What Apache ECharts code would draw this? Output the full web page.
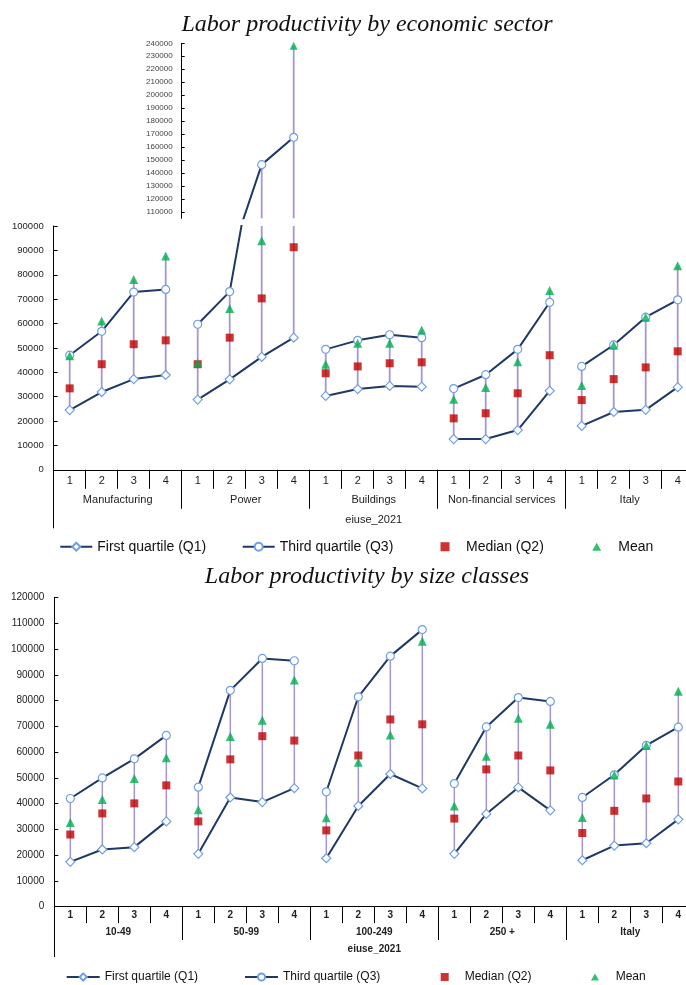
<!DOCTYPE html>
<html><head><meta charset="utf-8">
<script src="https://cdn.jsdelivr.net/npm/echarts@6/dist/echarts.min.js"></script>
<style>html,body{margin:0;padding:0;background:#fff;overflow:hidden}#c{width:700px;height:985px}</style>
</head><body><div id="c"></div>
<script>
// ---------- data ----------
const quarterLabels = ['1', '2', '3', '4'];
const sectors = ['Manufacturing', 'Power', 'Buildings', 'Non-financial services', 'Italy'];
const sizeClasses = ['10-49', '50-99', '100-249', '250 +', 'Italy'];
const insetTickLabels = [110000, 120000, 130000, 140000, 150000, 160000, 170000, 180000, 190000, 200000, 210000, 220000, 230000, 240000];

const sectorQ1 = [24500, 31900, 37200, 38900, 28800, 37100, 46300, 54200, 30300, 33100, 34400, 34100, 12600, 12600, 16300, 32400, 18000, 23700, 24600, 33900];
const sectorQ3 = [47000, 56800, 72900, 74000, 59700, 73100, 146400, 167500, 49400, 53100, 55400, 54200, 33300, 39000, 49400, 68700, 42400, 51200, 62600, 69700];
const sectorMedian = [33400, 43300, 51500, 53100, 43300, 54200, 70300, 91300, 39600, 42400, 43700, 44100, 21100, 23200, 31400, 47000, 28600, 37200, 42000, 48600];
const sectorMean = [46800, 61000, 78100, 87700, 43700, 66200, 94000, 238100, 43300, 51900, 51900, 57300, 28900, 33800, 44300, 73500, 34600, 51100, 62600, 83700];

const sizeQ1 = [17400, 22200, 23100, 33100, 20500, 42400, 40600, 46000, 18800, 39100, 51500, 45900, 20500, 36000, 46300, 37400, 18000, 23700, 24600, 33900];
const sizeQ3 = [42000, 50000, 57400, 66500, 46400, 84000, 96400, 95500, 44600, 81500, 97300, 107600, 47800, 69800, 81200, 79700, 42400, 51200, 62600, 69700];
const sizeMedian = [28000, 36200, 40100, 47100, 33100, 57200, 66200, 64500, 29600, 58700, 72700, 70800, 34200, 53300, 58700, 52900, 28600, 37200, 42000, 48600];
const sizeMean = [32700, 41600, 49800, 57800, 37600, 66100, 72400, 88000, 34500, 56100, 66700, 103100, 39100, 58400, 73200, 70800, 34600, 51100, 62600, 83700];

const axisName = 'eiuse_2021';
const N_Q1 = 'First quartile (Q1)', N_Q3 = 'Third quartile (Q3)', N_MED = 'Median (Q2)', N_MEAN = 'Mean';

// ---------- style ----------
const FONT = '"Liberation Sans", Arial, sans-serif';
const NAVY = '#1f3864', MARK = '#6f9fe6', RED = '#c00000', GREEN = '#00b050', HL = '#a596d4';
const plain = v => String(v);

function qLabels(groups) { return groups.flatMap(() => quarterLabels); }

function lineSeries(name, arr, symbol, size, xi, yi, nGroups) {
  const out = [];
  for (let g = 0; g < nGroups; g++) {
    out.push({
      type: 'line', name, xAxisIndex: xi, yAxisIndex: yi,
      data: arr.map((v, i) => Math.floor(i / 4) === g ? v : '-'),
      symbol, symbolSize: size, showSymbol: true, clip: true,
      lineStyle: { color: NAVY, width: 2 },
      itemStyle: { color: '#fff', borderColor: MARK, borderWidth: 1.2 },
      emphasis: { disabled: true }, z: 3
    });
  }
  return out;
}

function scatterSeries(name, arr, symbol, size, color, xi, yi) {
  return {
    type: 'scatter', name, xAxisIndex: xi, yAxisIndex: yi,
    data: arr.map((v, i) => [i, v]), symbol, symbolSize: size, clip: true,
    itemStyle: { color }, emphasis: { disabled: true }, z: 4
  };
}

function hlSeries(arrs, xi, yi, width) {
  const data = arrs[0].map((_, i) => {
    const vals = arrs.map(a => a[i]);
    return [i, Math.min(...vals), Math.max(...vals)];
  });
  return {
    type: 'custom', xAxisIndex: xi, yAxisIndex: yi, data, silent: true, z: 1,
    encode: { x: 0, y: [1, 2] },
    renderItem: function (params, api) {
      const x = api.value(0), lo = api.value(1), hi = api.value(2);
      const p1 = api.coord([x, lo]), p2 = api.coord([x, hi]);
      const cs = params.coordSys;
      const top = cs.y, bot = cs.y + cs.height;
      const y1 = Math.min(Math.max(p1[1], top), bot);
      const y2 = Math.min(Math.max(p2[1], top), bot);
      if (Math.abs(y1 - y2) < 0.1) return null;
      return { type: 'line', shape: { x1: p1[0], y1, x2: p1[0], y2 }, style: { stroke: HL, lineWidth: width } };
    }
  };
}

const gTop = { left: 53.7, top: 226, width: 640, height: 243.8, outerBoundsMode: 'none', containLabel: false };
const gInset = { left: 181.7, top: 43.3, width: 128, height: 175, outerBoundsMode: 'none', containLabel: false };
const gBot = { left: 54.3, top: 597.7, width: 640, height: 308.9, outerBoundsMode: 'none', containLabel: false };

const blk = '#000';
const txt = { color: '#222', fontFamily: FONT };

function legendItem(name, left, top, w, h, fs, pad) {
  return { data: [name], left, top, itemWidth: w, itemHeight: h, padding: 0, selectedMode: false,
    textStyle: { fontSize: fs, color: '#111', fontFamily: FONT, padding: [0, 0, 0, pad] } };
}

const option = {
  animation: false,
  grid: [gTop, gTop, gTop, gInset, gBot, gBot, gBot],
  xAxis: [
    { type: 'category', gridIndex: 0, data: qLabels(sectors),
      axisLine: { show: true, onZero: false, lineStyle: { color: blk } },
      axisTick: { show: true, interval: 0, length: 19, lineStyle: { color: blk } },
      axisLabel: Object.assign({ interval: 0, margin: 6, fontSize: 11 }, txt), splitLine: { show: false } },
    { type: 'category', gridIndex: 1, data: sectors,
      axisLine: { show: false },
      axisTick: { show: true, interval: 0, length: 39, lineStyle: { color: blk } },
      axisLabel: Object.assign({ interval: 0, margin: 25, fontSize: 11 }, txt) },
    { type: 'category', gridIndex: 2, data: [''],
      axisLine: { show: false },
      axisTick: { show: true, length: 58.5, lineStyle: { color: blk } },
      axisLabel: { show: false },
      name: axisName, nameLocation: 'middle', nameGap: 45,
      nameTextStyle: Object.assign({ fontSize: 11 }, txt) },
    { type: 'category', gridIndex: 3, data: quarterLabels, show: false },
    { type: 'category', gridIndex: 4, data: qLabels(sizeClasses),
      axisLine: { show: true, onZero: false, lineStyle: { color: blk } },
      axisTick: { show: true, interval: 0, length: 16.5, lineStyle: { color: blk } },
      axisLabel: Object.assign({ interval: 0, margin: 4, fontSize: 10, fontWeight: 'bold' }, txt), splitLine: { show: false } },
    { type: 'category', gridIndex: 5, data: sizeClasses,
      axisLine: { show: false },
      axisTick: { show: true, interval: 0, length: 33.5, lineStyle: { color: blk } },
      axisLabel: Object.assign({ interval: 0, margin: 21, fontSize: 10, fontWeight: 'bold' }, txt) },
    { type: 'category', gridIndex: 6, data: [''],
      axisLine: { show: false },
      axisTick: { show: true, length: 50.5, lineStyle: { color: blk } },
      axisLabel: { show: false },
      name: axisName, nameLocation: 'middle', nameGap: 38,
      nameTextStyle: Object.assign({ fontSize: 10, fontWeight: 'bold' }, txt) }
  ],
  yAxis: [
    { type: 'value', gridIndex: 0, min: 0, max: 100000, interval: 10000,
      axisLine: { show: true, lineStyle: { color: blk } },
      axisTick: { show: true, inside: true, length: 4, lineStyle: { color: blk } },
      axisLabel: Object.assign({ fontSize: 9.5, margin: 10, formatter: plain }, txt), splitLine: { show: false } },
    { type: 'value', gridIndex: 1, show: false },
    { type: 'value', gridIndex: 2, show: false },
    { type: 'value', gridIndex: 3, min: 105000, max: 240000,
      axisLine: { show: true, lineStyle: { color: blk } },
      axisTick: { show: true, inside: true, length: 3, customValues: insetTickLabels, lineStyle: { color: blk } },
      axisLabel: { fontSize: 8, margin: 9, color: '#444', fontFamily: FONT, customValues: insetTickLabels, formatter: plain },
      splitLine: { show: false } },
    { type: 'value', gridIndex: 4, min: 0, max: 120000, interval: 10000,
      axisLine: { show: true, lineStyle: { color: blk } },
      axisTick: { show: true, inside: true, length: 4, lineStyle: { color: blk } },
      axisLabel: Object.assign({ fontSize: 10, margin: 10, formatter: plain }, txt), splitLine: { show: false } },
    { type: 'value', gridIndex: 5, show: false },
    { type: 'value', gridIndex: 6, show: false }
  ],
  legend: [
    legendItem(N_Q1, 59.3, 539.7, 32, 10, 14, 0),
    legendItem(N_Q3, 241.7, 539.7, 32, 10, 14, 0),
    legendItem(N_MED, 440.5, 539.7, 9, 9, 14, 11.5),
    legendItem(N_MEAN, 592.2, 539.7, 9, 8, 14, 12.1),
    legendItem(N_Q1, 65.7, 971, 33, 9, 12, 0),
    legendItem(N_Q3, 244, 971, 33, 9, 12, 0),
    legendItem(N_MED, 440.7, 971, 8, 8, 12, 11),
    legendItem(N_MEAN, 591, 971, 8, 7, 12, 11.7)
  ],
  graphic: [
    { type: 'text', x: 367, y: 25, silent: true,
      style: { text: 'Labor productivity by economic sector', fontStyle: 'italic', fontSize: 24, fontFamily: '"Liberation Serif", "Times New Roman", serif', fill: '#111', align: 'center', verticalAlign: 'middle' } },
    { type: 'text', x: 367, y: 577, silent: true,
      style: { text: 'Labor productivity by size classes', fontStyle: 'italic', fontSize: 24, fontFamily: '"Liberation Serif", "Times New Roman", serif', fill: '#111', align: 'center', verticalAlign: 'middle' } }
  ],
  series: [].concat(
    // top main
    [hlSeries([sectorQ1, sectorQ3, sectorMedian, sectorMean], 0, 0, 1.8)],
    lineSeries(N_Q1, sectorQ1, 'diamond', 9, 0, 0, 5),
    lineSeries(N_Q3, sectorQ3, 'circle', 8, 0, 0, 5),
    [scatterSeries(N_MED, sectorMedian, 'rect', 8, RED, 0, 0),
     scatterSeries(N_MEAN, sectorMean, 'triangle', 9, GREEN, 0, 0)],
    // inset (Power, upper part of the broken axis)
    [hlSeries([sectorQ1.slice(4, 8), sectorQ3.slice(4, 8), sectorMedian.slice(4, 8), sectorMean.slice(4, 8)], 3, 3, 1.8)],
    lineSeries(N_Q3, sectorQ3.slice(4, 8), 'circle', 8, 3, 3, 1),
    [scatterSeries(N_MEAN, sectorMean.slice(4, 8), 'triangle', 8, GREEN, 3, 3)],
    // bottom
    [hlSeries([sizeQ1, sizeQ3, sizeMedian, sizeMean], 4, 4, 1.5)],
    lineSeries(N_Q1, sizeQ1, 'diamond', 9, 4, 4, 5),
    lineSeries(N_Q3, sizeQ3, 'circle', 8, 4, 4, 5),
    [scatterSeries(N_MED, sizeMedian, 'rect', 8, RED, 4, 4),
     scatterSeries(N_MEAN, sizeMean, 'triangle', 9, GREEN, 4, 4)]
  )
};

const chart = echarts.init(document.getElementById('c'), null, { renderer: 'canvas' });
chart.setOption(option);
</script>
</body></html>
